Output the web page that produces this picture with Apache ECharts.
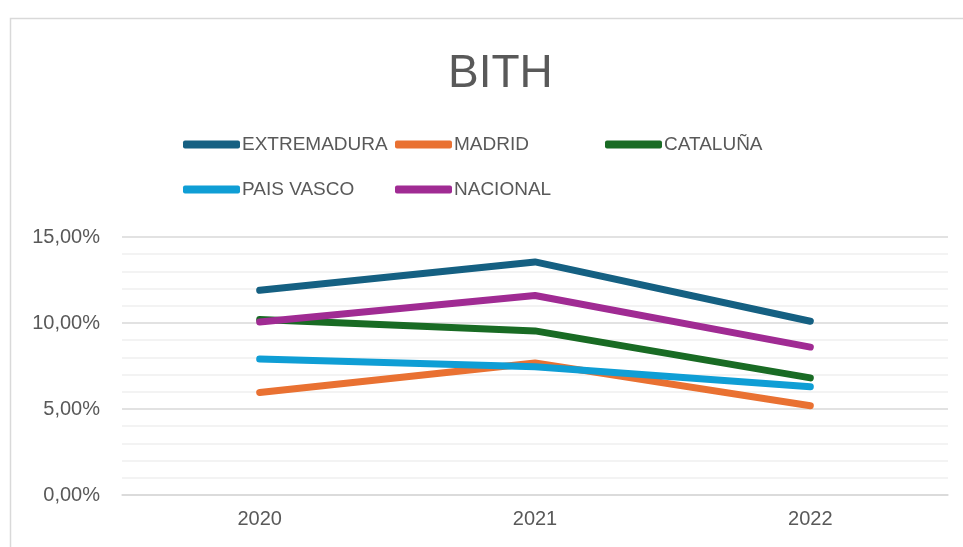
<!DOCTYPE html>
<html>
<head>
<meta charset="utf-8">
<title>BITH</title>
<script src="https://cdn.jsdelivr.net/npm/echarts@6/dist/echarts.min.js"></script>
<style>
  html, body { margin: 0; padding: 0; background: #fff; }
  #chart { width: 963px; height: 547px; }
</style>
</head>
<body>
<div id="chart"></div>
<script>
// datos (%)
var years = ['2020', '2021', '2022']
var extremadura = [11.9, 13.55, 10.1]
var madrid = [5.96, 7.68, 5.19]
var cataluna = [10.2, 9.54, 6.81]
var paisVasco = [7.9, 7.45, 6.29]
var nacional = [10.06, 11.6, 8.6]

var seriesNames = ['EXTREMADURA', 'MADRID', 'CATALUÑA', 'PAIS VASCO', 'NACIONAL']
var seriesData = [extremadura, madrid, cataluna, paisVasco, nacional]
var colors = ['#156082', '#E97132', '#196B24', '#0F9ED5', '#A02B93']

var textColor = '#595959'
var font = 'Liberation Sans'

// posiciones de la leyenda (como en Excel, en rejilla)
var legendPos = [[183, 135], [395, 135], [605, 135], [183, 180], [395, 180]]

var chart = echarts.init(document.getElementById('chart'))

chart.setOption({
  animation: false,
  color: colors,
  title: {
    text: 'BITH',
    left: 443,
    top: 46,
    textStyle: { fontFamily: font, fontSize: 46, fontWeight: 'normal', color: textColor }
  },
  graphic: [{ // borde del área del gráfico
    type: 'rect',
    left: 8,
    top: 16,
    shape: { width: 1100, height: 700 },
    style: { fill: 'none', stroke: '#d9d9d9', lineWidth: 1.5 },
    silent: true
  }],
  legend: seriesNames.map(function(name, i) {
    return {
      data: [name],
      left: legendPos[i][0],
      top: legendPos[i][1],
      icon: 'roundRect',
      itemWidth: 57,
      itemHeight: 8,
      itemGap: 0,
      padding: 0,
      selectedMode: false,
      textStyle: { fontFamily: font, fontSize: 19, color: textColor, padding: [0, 0, 0, -3] }
    }
  }),
  grid: {
    left: 122,
    right: 15,
    top: 237,
    bottom: 52,
    containLabel: false
  },
  xAxis: {
    type: 'category',
    data: years,
    boundaryGap: true,
    axisLine: { show: true, lineStyle: { color: '#d9d9d9', width: 1.5 } },
    axisTick: { show: false },
    axisLabel: { fontFamily: font, fontSize: 20, color: textColor, margin: 14 }
  },
  yAxis: {
    type: 'value',
    min: 0,
    max: 15,
    interval: 5,
    axisLine: { show: false },
    axisTick: { show: false },
    axisLabel: {
      fontFamily: font,
      fontSize: 20,
      color: textColor,
      margin: 22,
      formatter: function(v) { return v.toFixed(2).replace('.', ',') + '%' }
    },
    splitLine: { lineStyle: { color: '#d9d9d9', width: 1.5 } },
    minorTick: { show: false, splitNumber: 5 },
    minorSplitLine: { show: true, lineStyle: { color: '#efefef', width: 1.5 } }
  },
  series: seriesNames.map(function(name, i) {
    return {
      name: name,
      type: 'line',
      data: seriesData[i],
      showSymbol: false,
      symbol: 'none',
      lineStyle: { width: 7, cap: 'round', join: 'round', color: colors[i] }
    }
  })
})
</script>
</body>
</html>
